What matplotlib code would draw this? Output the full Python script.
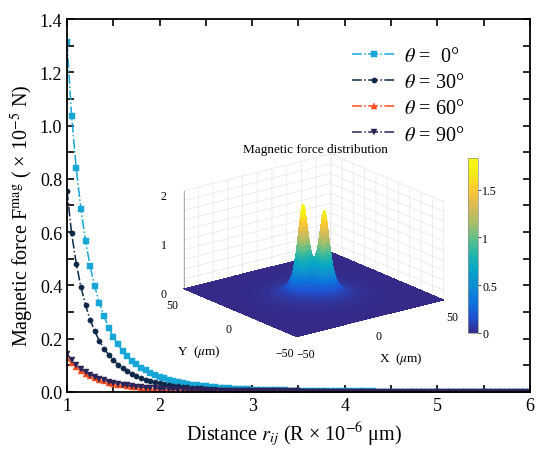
import matplotlib
matplotlib.use("Agg")
import matplotlib.pyplot as plt
import numpy as np
from matplotlib.colors import LinearSegmentedColormap

plt.rcParams["font.family"] = ["Liberation Serif", "DejaVu Serif"]
plt.rcParams["mathtext.fontset"] = "stix"

# distance r_ij (sample points every 0.05)
r_ij = [1.00, 1.05, 1.10, 1.15, 1.20, 1.25, 1.30, 1.35, 1.40, 1.45,
        1.50, 1.55, 1.60, 1.65, 1.70, 1.75, 1.80, 1.85, 1.90, 1.95,
        2.00, 2.05, 2.10, 2.15, 2.20, 2.25, 2.30, 2.35, 2.40, 2.45,
        2.50, 2.55, 2.60, 2.65, 2.70, 2.75, 2.80, 2.85, 2.90, 2.95,
        3.00, 3.05, 3.10, 3.15, 3.20, 3.25, 3.30, 3.35, 3.40, 3.45,
        3.50, 3.55, 3.60, 3.65, 3.70, 3.75, 3.80, 3.85, 3.90, 3.95,
        4.00, 4.05, 4.10, 4.15, 4.20, 4.25, 4.30, 4.35, 4.40, 4.45,
        4.50, 4.55, 4.60, 4.65, 4.70, 4.75, 4.80, 4.85, 4.90, 4.95,
        5.00, 5.05, 5.10, 5.15, 5.20, 5.25, 5.30, 5.35, 5.40, 5.45,
        5.50, 5.55, 5.60, 5.65, 5.70, 5.75, 5.80, 5.85, 5.90, 5.95,
        6.00]

f_0 = [1.314, 1.035, 0.839, 0.687, 0.568, 0.472, 0.396, 0.334, 0.284, 0.242,
       0.208, 0.179, 0.155, 0.135, 0.118, 0.104, 0.0915, 0.0809, 0.0718, 0.0638,
       0.0570, 0.0510, 0.0457, 0.0411, 0.0371, 0.0335, 0.0304, 0.0276, 0.0251, 0.0229,
       0.0209, 0.0191, 0.0175, 0.0161, 0.0148, 0.0136, 0.0125, 0.0116, 0.0107, 0.0099,
       0.0092, 0.0085, 0.0079, 0.0074, 0.0069, 0.0064, 0.0060, 0.0056, 0.0052, 0.0049,
       0.0046, 0.0043, 0.0040, 0.0038, 0.0036, 0.0034, 0.0032, 0.0030, 0.0028, 0.0027,
       0.0025, 0.0024, 0.0023, 0.0021, 0.0020, 0.0019, 0.0018, 0.0017, 0.0016, 0.0016,
       0.0015, 0.0014, 0.0013, 0.0013, 0.0012, 0.0011, 0.0011, 0.0010, 0.0010, 0.0009,
       0.0009, 0.0009, 0.0008, 0.0008, 0.0007, 0.0007, 0.0007, 0.0007, 0.0006, 0.0006,
       0.0006, 0.0006, 0.0005, 0.0005, 0.0005, 0.0005, 0.0005, 0.0004, 0.0004, 0.0004,
       0.0004]

f_30 = [0.756, 0.595, 0.482, 0.395, 0.327, 0.271, 0.228, 0.192, 0.163, 0.139,
        0.120, 0.103, 0.089, 0.078, 0.068, 0.060, 0.053, 0.0465, 0.0413, 0.0367,
        0.0328, 0.0293, 0.0263, 0.0236, 0.0213, 0.0193, 0.0175, 0.0159, 0.0144, 0.0132,
        0.0120, 0.0110, 0.0101, 0.0093, 0.0085, 0.0078, 0.0072, 0.0067, 0.0062, 0.0057,
        0.0053, 0.0049, 0.0045, 0.0043, 0.0040, 0.0037, 0.0035, 0.0032, 0.0030, 0.0028,
        0.0026, 0.0025, 0.0023, 0.0022, 0.0021, 0.0020, 0.0018, 0.0017, 0.0016, 0.0016,
        0.0014, 0.0014, 0.0013, 0.0012, 0.0012, 0.0011, 0.0010, 0.0010, 0.0009, 0.0009,
        0.0009, 0.0008, 0.0008, 0.0007, 0.0007, 0.0006, 0.0006, 0.0006, 0.0006, 0.0005,
        0.0005, 0.0005, 0.0005, 0.0005, 0.0004, 0.0004, 0.0004, 0.0004, 0.0004, 0.0003,
        0.0003, 0.0003, 0.0003, 0.0003, 0.0003, 0.0003, 0.0003, 0.0003, 0.0002, 0.0002,
        0.0002]

f_60 = [0.126, 0.1085, 0.0922, 0.0789, 0.0680, 0.0590, 0.0514, 0.0450, 0.0396, 0.0351,
        0.0311, 0.0277, 0.0248, 0.0223, 0.0201, 0.0182, 0.0165, 0.0149, 0.0136, 0.0124,
        0.0113, 0.0104, 0.0096, 0.0088, 0.0082, 0.0076, 0.0070, 0.0065, 0.0060, 0.0056,
        0.0052, 0.0049, 0.0045, 0.0042, 0.0040, 0.0037, 0.0035, 0.0033, 0.0031, 0.0029,
        0.0028, 0.0026, 0.0024, 0.0023, 0.0022, 0.0021, 0.0020, 0.0019, 0.0018, 0.0017,
        0.0016, 0.0015, 0.0014, 0.0014, 0.0013, 0.0013, 0.0012, 0.0012, 0.0011, 0.0011,
        0.0010, 0.0010, 0.0009, 0.0009, 0.0009, 0.0008, 0.0008, 0.0008, 0.0007, 0.0007,
        0.0006, 0.0006, 0.0006, 0.0006, 0.0005, 0.0005, 0.0005, 0.0005, 0.0005, 0.0005,
        0.0005, 0.0004, 0.0004, 0.0004, 0.0004, 0.0004, 0.0004, 0.0004, 0.0004, 0.0004,
        0.0003, 0.0003, 0.0003, 0.0003, 0.0003, 0.0003, 0.0003, 0.0003, 0.0003, 0.0003,
        0.0003]

f_90 = [0.143, 0.1206, 0.1024, 0.0877, 0.0755, 0.0655, 0.0571, 0.0500, 0.0440, 0.0390,
        0.0346, 0.0308, 0.0276, 0.0248, 0.0223, 0.0202, 0.0183, 0.0166, 0.0151, 0.0138,
        0.0126, 0.0116, 0.0107, 0.0098, 0.0091, 0.0084, 0.0078, 0.0072, 0.0067, 0.0062,
        0.0058, 0.0054, 0.0050, 0.0047, 0.0044, 0.0041, 0.0039, 0.0037, 0.0034, 0.0032,
        0.0031, 0.0029, 0.0027, 0.0026, 0.0025, 0.0023, 0.0022, 0.0021, 0.0020, 0.0019,
        0.0018, 0.0017, 0.0016, 0.0016, 0.0015, 0.0014, 0.0014, 0.0013, 0.0013, 0.0012,
        0.0011, 0.0011, 0.0010, 0.0010, 0.0010, 0.0009, 0.0009, 0.0009, 0.0008, 0.0008,
        0.0007, 0.0007, 0.0007, 0.0007, 0.0006, 0.0006, 0.0006, 0.0006, 0.0006, 0.0005,
        0.0005, 0.0005, 0.0005, 0.0005, 0.0005, 0.0004, 0.0004, 0.0004, 0.0004, 0.0004,
        0.0004, 0.0004, 0.0004, 0.0003, 0.0003, 0.0003, 0.0003, 0.0003, 0.0003, 0.0003,
        0.0003]

labels = [r"$\theta$ =  0°", r"$\theta$ = 30°", r"$\theta$ = 60°", r"$\theta$ = 90°"]
colors = ["#17a6d6", "#0d2748", "#ff4a1a", "#2d2257"]
markers = ["s", "o", "^", "v"]

# inset surface: two lobes near the centre + weak halo
peak_x = [-4.1, 4.1]
peak_y = [4.1, -4.1]
peak_h = [1.72, 1.60]
peak_w = [5.3, 5.3]
halo_h = 0.07
halo_w = 24.0
grid_xy = np.linspace(-50, 50, 241)

fig = plt.figure(figsize=(5.5, 4.6), dpi=100)
ax = fig.add_axes([0.1218, 0.1457, 0.8418, 0.8108])

for y, c, m, lab in zip([f_0, f_30, f_60, f_90], colors, markers, labels):
    ax.plot(r_ij, y, linestyle="-.", color=c, lw=1.1, marker=m, ms=3.8,
            markeredgewidth=0.3, label=lab)

ax.set_xlim(1, 6)
ax.set_ylim(0, 1.4)
ax.set_xticks([1, 2, 3, 4, 5, 6])
ax.set_xticks(np.arange(1.5, 6, 1), minor=True)
ax.set_yticks(np.arange(0, 1.41, 0.2))
ax.set_yticks(np.arange(0.1, 1.4, 0.2), minor=True)
ax.yaxis.set_major_formatter(matplotlib.ticker.FormatStrFormatter("%.1f"))
ax.tick_params(which="both", direction="in", top=True, right=True, labelsize=13,
               width=1.2, length=5)
for s in ax.spines.values():
    s.set_linewidth(1.3)
ax.set_xlabel(r"Distance $r_{ij}$ (R × 10$^{-6}$ μm)", fontsize=14.5)
ax.set_ylabel(r"Magnetic force F$^{\mathrm{mag}}$ ( × 10$^{-5}$ N)", fontsize=14.5)
ax.xaxis.set_label_coords(0.49, -0.075)
ax.yaxis.set_label_coords(-0.067, 0.475)

leg = ax.legend(loc="upper left", bbox_to_anchor=(0.615, 0.925), frameon=False,
                fontsize=14.5, handlelength=2.2, handletextpad=0.4, labelspacing=0.35,
                borderpad=0, borderaxespad=0, numpoints=1)

# parula-like colormap
parula = LinearSegmentedColormap.from_list("parula", [
    (0.2081, 0.1663, 0.5292), (0.1253, 0.3242, 0.8303), (0.0498, 0.4586, 0.8641),
    (0.0641, 0.5570, 0.8240), (0.0228, 0.6535, 0.7768), (0.1453, 0.7098, 0.6646),
    (0.3953, 0.7459, 0.5244), (0.6834, 0.7435, 0.4044), (0.8507, 0.7299, 0.3360),
    (0.9955, 0.7861, 0.1967), (0.9598, 0.9218, 0.0948), (0.9763, 0.9831, 0.0538)])

X, Y = np.meshgrid(grid_xy, grid_xy)
Z = halo_h * np.exp(-(X ** 2 + Y ** 2) / halo_w ** 2)
for px, py, ph, pw in zip(peak_x, peak_y, peak_h, peak_w):
    Z = Z + ph / (1 + ((X - px) ** 2 + (Y - py) ** 2) / pw ** 2) ** 2
zmax = Z.max()

w3, h3 = 0.51, 0.595
ax3 = fig.add_axes([310 / 550 - w3 / 2, 1 - 250 / 460 - h3 / 2, w3, h3],
                   projection="3d")
ax3.patch.set_alpha(0)
ax3.set_proj_type("ortho")
ax3.view_init(elev=19, azim=-127.5)
ax3.plot_surface(X, Y, Z, cmap=parula, vmin=0, vmax=zmax, rstride=1, cstride=1,
                 linewidth=0, antialiased=False, shade=False)
ax3.set_xlim(-50, 50)
ax3.set_ylim(-50, 50)
ax3.set_zlim(0, 2)
ax3.set_box_aspect((1, 1, 0.56))
tl = ["−50", "", "", "", "", "0", "", "", "", "", "50"]
ax3.set_xticks(np.arange(-50, 51, 10), tl)
ax3.set_yticks(np.arange(-50, 51, 10), tl)
ax3.set_zticks(np.arange(0, 2.01, 0.2),
               ["0", "", "", "", "", "1", "", "", "", "", "2"])
ax3.tick_params(labelsize=8.5, pad=0)
for a in (ax3.xaxis, ax3.yaxis, ax3.zaxis):
    a.set_pane_color((1, 1, 1, 0))
    a._axinfo["grid"]["color"] = "#e6e6e6"
    a._axinfo["grid"]["linewidth"] = 0.5
    a._axinfo["tick"]["inward_factor"] = 0
    a._axinfo["tick"]["outward_factor"] = 0
    a.line.set_color("#a0a0a0")
    a.line.set_linewidth(0.6)
ax3.xaxis.set_rotate_label(False)
ax3.yaxis.set_rotate_label(False)
ax3.set_xlabel(r"X  ($\mu$m)", fontsize=9.5, labelpad=7)
ax3.set_ylabel(r"Y  ($\mu$m)", fontsize=9.5, labelpad=8)

fig.text(315 / 550, 1 - 150 / 460, "Magnetic force distribution", fontsize=9.5,
         ha="center", va="center")

cax = fig.add_axes([468 / 550, 1 - 334 / 460, 10 / 550, 175 / 460])
sm = matplotlib.cm.ScalarMappable(cmap=parula, norm=plt.Normalize(0, zmax))
cb = fig.colorbar(sm, cax=cax, ticks=[0, 0.5, 1, 1.5])
cb.ax.set_yticklabels(["0", "0.5", "1", "1.5"])
cb.ax.tick_params(labelsize=8.5, length=2, width=0.5, pad=1)
cb.outline.set_linewidth(0.5)
cb.outline.set_edgecolor("#909090")

fig.savefig("out.png", dpi=100)
